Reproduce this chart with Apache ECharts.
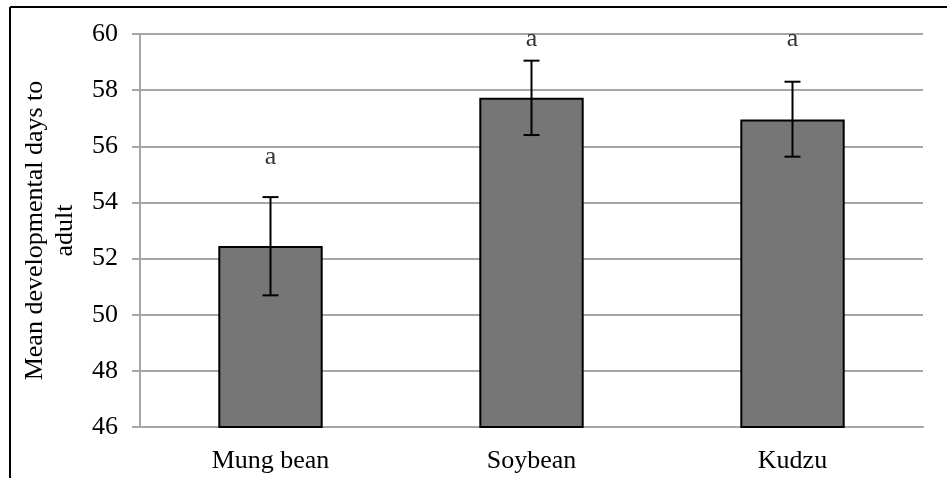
<!DOCTYPE html>
<html>
<head>
<meta charset="utf-8">
<script src="https://cdn.jsdelivr.net/npm/echarts@6/dist/echarts.min.js"></script>
<style>
  html, body { margin: 0; padding: 0; background: #fff; }
  #main { width: 947px; height: 478px; }
</style>
</head>
<body>
<div id="main"></div>
<script>
// data
const hosts = ['Mung bean', 'Soybean', 'Kudzu']
const meanDays = [52.45, 57.73, 56.95]
const errLow = [50.69, 56.40, 55.63]
const errHigh = [54.19, 59.05, 58.30]
const letters = ['a', 'a', 'a']
const letterY = [55.6, 59.8, 59.8] // where the letters sit, in axis units

const FONT = "'Liberation Serif', 'Times New Roman', serif"

const chart = echarts.init(document.getElementById('main'))

const option = {
  animation: false,
  backgroundColor: '#fff',
  textStyle: { fontFamily: FONT },
  // outer frame (top and left edges only are visible)
  graphic: [
    { type: 'line', shape: { x1: 10, y1: 7, x2: 947, y2: 7 }, style: { stroke: '#000', lineWidth: 2 } },
    { type: 'line', shape: { x1: 10, y1: 7, x2: 10, y2: 478 }, style: { stroke: '#000', lineWidth: 2 } },
  ],
  grid: {
    left: 140,
    right: 24,
    top: 34,
    bottom: 51,
  },
  xAxis: {
    type: 'category',
    data: hosts,
    axisLine: { lineStyle: { color: '#a6a6a6', width: 2 } },
    axisTick: { length: 8, lineStyle: { color: '#a6a6a6', width: 2 } },
    axisLabel: { color: '#000', fontSize: 26, fontFamily: FONT, margin: 21 },
  },
  yAxis: {
    type: 'value',
    min: 46,
    max: 60,
    interval: 2,
    name: 'Mean developmental days to\nadult',
    nameLocation: 'middle',
    nameGap: 60,
    nameRotate: 90,
    nameTextStyle: { color: '#000', fontSize: 26, fontFamily: FONT, lineHeight: 30 },
    axisLine: { show: true, lineStyle: { color: '#a6a6a6', width: 2 } },
    axisTick: { show: true, length: 8, lineStyle: { color: '#a6a6a6', width: 2 } },
    axisLabel: { color: '#000', fontSize: 26, fontFamily: FONT, margin: 22 },
    splitLine: { lineStyle: { color: '#a6a6a6', width: 2 } },
  },
  series: [
    {
      type: 'bar',
      data: meanDays,
      barWidth: '40%',
      itemStyle: { color: '#767676', borderColor: '#000', borderWidth: 2 },
      z: 2,
    },
    {
      // error bars
      type: 'custom',
      z: 3,
      data: hosts.map((h, i) => [i, errLow[i], errHigh[i]]),
      renderItem: function (params, api) {
        const lo = api.coord([api.value(0), api.value(1)])
        const hi = api.coord([api.value(0), api.value(2)])
        const cap = 8
        const style = { stroke: '#000', lineWidth: 2 }
        return {
          type: 'group',
          children: [
            { type: 'line', shape: { x1: hi[0], y1: hi[1], x2: lo[0], y2: lo[1] }, style },
            { type: 'line', shape: { x1: hi[0] - cap, y1: hi[1], x2: hi[0] + cap, y2: hi[1] }, style },
            { type: 'line', shape: { x1: lo[0] - cap, y1: lo[1], x2: lo[0] + cap, y2: lo[1] }, style },
          ],
        }
      },
    },
    {
      // significance letters
      type: 'scatter',
      symbolSize: 0,
      z: 4,
      data: hosts.map((h, i) => [i, letterY[i], letters[i]]),
      label: {
        show: true,
        position: 'inside',
        formatter: (p) => p.value[2],
        color: '#000',
        fontSize: 26,
        fontFamily: FONT,
      },
    },
  ],
}

chart.setOption(option)
</script>
</body>
</html>
